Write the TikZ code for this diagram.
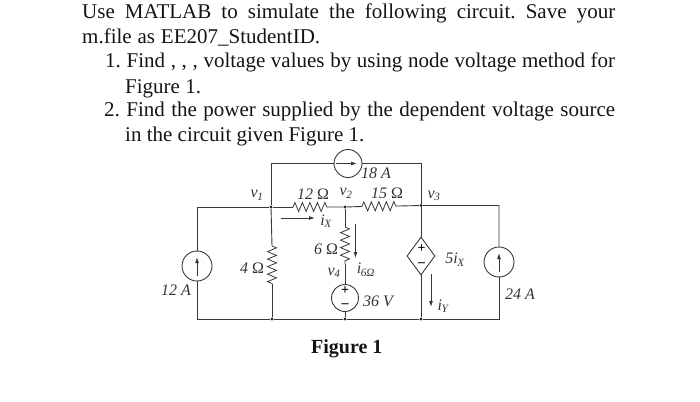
\documentclass[tikz,border=0pt]{standalone}
\usepackage{fontspec}
\setmainfont{Liberation Serif}
\usetikzlibrary{decorations.pathmorphing,shapes.geometric,arrows.meta}
\tikzset{
 x=1pt,y=-1pt,
 wire/.style={draw=black!78,line width=0.9pt},
 res/.style={wire,line width=0.8pt,decorate,decoration={zigzag,segment length=7.5pt,amplitude=4.5pt}},
 src/.style={circle,draw=black!78,line width=0.9pt,fill=white,minimum size=#1,inner sep=0pt},
 dot/.style={circle,fill=black!85,minimum size=3.4pt,inner sep=0pt},
 txt/.style={anchor=base west,inner sep=0pt,font=\fontsize{21}{25}\selectfont,text=black!92},
 lab/.style={inner sep=0pt,font=\fontsize{16}{18}\selectfont\itshape,text=black!80},
 arr/.style={draw=black!78,line width=0.9pt,-{Latex[length=6pt,width=4pt]}},
}
\begin{document}
\begin{tikzpicture}
\useasboundingbox (0,0) rectangle (700,401);
% text
\node[txt] (t1) at (82,19) {\hbox to 533pt{Use\hfil MATLAB\hfil to\hfil simulate\hfil the\hfil following\hfil circuit.\hfil Save\hfil your}};
\node[txt] (t2) at (82,44) {\hbox to 238pt{m.file\hfil as\hfil EE207\_StudentID.}};
\node[txt] (t3) at (105,68) {\hbox to 510pt{1.\hfil Find\hfil ,\hfil ,\hfil ,\hfil voltage\hfil values\hfil by\hfil using\hfil node\hfil voltage\hfil method\hfil for}};
\node[txt] (t4) at (125,93) {Figure 1.};
\node[txt] (t5) at (104,117) {\hbox to 511pt{2.\hfil Find\hfil the\hfil power\hfil supplied\hfil by\hfil the\hfil dependent\hfil voltage\hfil source}};
\node[txt] (t6) at (125,141) {in the circuit given Figure 1.};
\node[txt,font=\fontsize{20}{24}\selectfont\bfseries] (fig) at (311,353) {Figure 1};
% junctions
\node[dot] (n1) at (271,207) {};
\node[dot] (n2) at (345,207) {};
\node[dot] (n3) at (421,205.5) {};
\node[dot] (b1) at (272,319) {};
\node[dot] (b2) at (345,319) {};
\node[dot] (b3) at (421,319) {};
\coordinate (tl) at (271,163.5);
\coordinate (tr) at (421,163.5);
\coordinate (ll) at (197,207);
\coordinate (lb) at (197,319);
\coordinate (rt) at (499,205.5);
\coordinate (rb) at (499,319);
% resistor ends
\coordinate (r12a) at (293,207);
\coordinate (r12b) at (330,207);
\coordinate (r15a) at (362,206.5);
\coordinate (r15b) at (399,206);
\coordinate (r4a) at (272,246);
\coordinate (r4b) at (272,284);
\coordinate (r6a) at (345,227);
\coordinate (r6b) at (345,264);
% sources
\node[src=30pt] (s12) at (197,266) {};
\node[src=28pt] (s18) at (348,163.5) {};
\node[src=27pt] (s36) at (345,298) {};
\node[src=30pt] (s24) at (499,262) {};
\node[diamond,draw=black!78,line width=0.9pt,fill=white,minimum width=28pt,minimum height=38pt,inner sep=0pt] (dep) at (421,256) {};
% wires
\draw[wire] (s12) -- (ll) -- (n1) -- (r12a);
\draw[wire] (s12) -- (lb) -- (b1) -- (b2) -- (b3) -- (rb) -- (s24);
\draw[wire] (s24) -- (rt) -- (n3) -- (r15b);
\draw[wire] (n1) -- (tl) -- (s18) -- (tr) -- (n3);
\draw[wire] (r12b) -- (n2) -- (r15a);
\draw[wire] (n1) -- (r4a);
\draw[wire] (r4b) -- (b1);
\draw[wire] (n2) -- (r6a);
\draw[wire] (r6b) -- (s36) -- (b2);
\draw[wire] (n3) -- (dep) -- (b3);
\draw[res] (r12a) -- (r12b);
\draw[res] (r15a) -- (r15b);
\draw[res] (r4a) -- (r4b);
\draw[res] (r6a) -- (r6b);
% source marks
\coordinate (a12a) at (197,276); \coordinate (a12b) at (197,257);
\coordinate (a24a) at (499,272); \coordinate (a24b) at (499,253);
\coordinate (a18a) at (336,163.5); \coordinate (a18b) at (357,163.5);
\draw[arr] (a12a) -- (a12b);
\draw[arr] (a24a) -- (a24b);
\draw[arr] (a18a) -- (a18b);
\node[font=\fontsize{14}{14}\selectfont\bfseries,inner sep=0pt] (p36) at (345,291) {+};
\node[font=\fontsize{14}{14}\selectfont\bfseries,inner sep=0pt] (m36) at (345,306) {--};
\node[font=\fontsize{14}{14}\selectfont\bfseries,inner sep=0pt] (pd) at (421.5,249) {+};
\node[font=\fontsize{14}{14}\selectfont\bfseries,inner sep=0pt] (md) at (421.5,265) {--};
% current arrows
\coordinate (ixa) at (281,218); \coordinate (ixb) at (315,218);
\coordinate (i6a) at (355.5,224); \coordinate (i6b) at (355.5,258);
\coordinate (iya) at (431,274); \coordinate (iyb) at (431,307);
\draw[arr] (ixa) -- (ixb);
\draw[arr] (i6a) -- (i6b);
\draw[arr] (iya) -- (iyb);
% labels
\node[lab] (l1) at (257,195.5) {v\textsubscript{\kern-0.5pt\itshape 1}};
\node[lab] (l2) at (346,193.5) {v\textsubscript{\kern-0.5pt\itshape 2}};
\node[lab] (l3) at (434,196) {v\textsubscript{\kern-0.5pt\itshape 3}};
\node[lab] (l4) at (334,273) {v\textsubscript{\kern-0.5pt\itshape 4}};
\node[lab] (r12) at (313,194) {12 \textup{Ω}};
\node[lab] (r15) at (387,193) {15 \textup{Ω}};
\node[lab] (r4) at (252,268) {4 \textup{Ω}};
\node[lab] (r6) at (326,249) {6 \textup{Ω}};
\node[lab] (ix) at (326,221) {i\textsubscript{\kern-0.5pt X}};
\node[lab] (i6) at (366,270) {i\textsubscript{\kern-0.5pt 6Ω}};
\node[lab] (iy) at (443,306) {i\textsubscript{\kern-0.5pt Y}};
\node[lab] (five) at (455,259.5) {5i\textsubscript{\kern-0.5pt X}};
\node[lab] (a18) at (376,173) {18 A};
\node[lab] (a12) at (176,290) {12 A};
\node[lab] (a24) at (520,294) {24 A};
\node[lab] (v36) at (378,301) {36 V};
\end{tikzpicture}
\end{document}
